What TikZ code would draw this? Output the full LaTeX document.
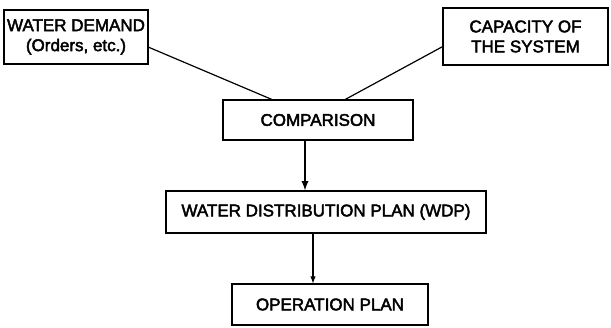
\documentclass[tikz,border=0pt]{standalone}
\usepackage{fontspec}
\setmainfont[FakeBold=2.5]{Liberation Sans}
\usetikzlibrary{arrows,calc}

\begin{document}
\begin{tikzpicture}[
x=1pt, y=-1pt,
font=\fontsize{17}{20}\selectfont,
box/.style={
    draw=black, line width=1.2pt, align=center,
    inner sep=0pt, anchor=center},
link/.style={draw=black, line width=1.2pt},
flow/.style={draw=black, -latex, line width=1.4pt},
]

\useasboundingbox (0,0) rectangle (611,327);

\node[box, minimum width=144pt, minimum height=54pt] (demand) at (76,37) {WATER DEMAND\\(Orders, etc.)};
\node[box, minimum width=165pt, minimum height=57pt] (capacity) at (525.5,36.5) {CAPACITY OF\\THE SYSTEM};
\node[box, minimum width=190pt, minimum height=40pt] (comparison) at (318,120) {COMPARISON};
\node[box, minimum width=320pt, minimum height=42pt] (wdp) at (326,212) {WATER DISTRIBUTION PLAN (WDP)};
\node[box, minimum width=196pt, minimum height=41pt] (operation) at (330,304.5) {OPERATION PLAN};

\draw[link] (demand.-8) to (comparison.156);
\draw[link] (capacity.187) to (comparison.37);
\draw[flow, line width=2.2pt] ($(comparison.south)+(-13,0)$) to ($(wdp.north)+(-21,0)$);
\draw[flow] ($(wdp.south)+(-13,0)$) to ($(operation.north)+(-17,0)$);
%\draw[flow] (comparison) to (operation);

\end{tikzpicture}
\end{document}
